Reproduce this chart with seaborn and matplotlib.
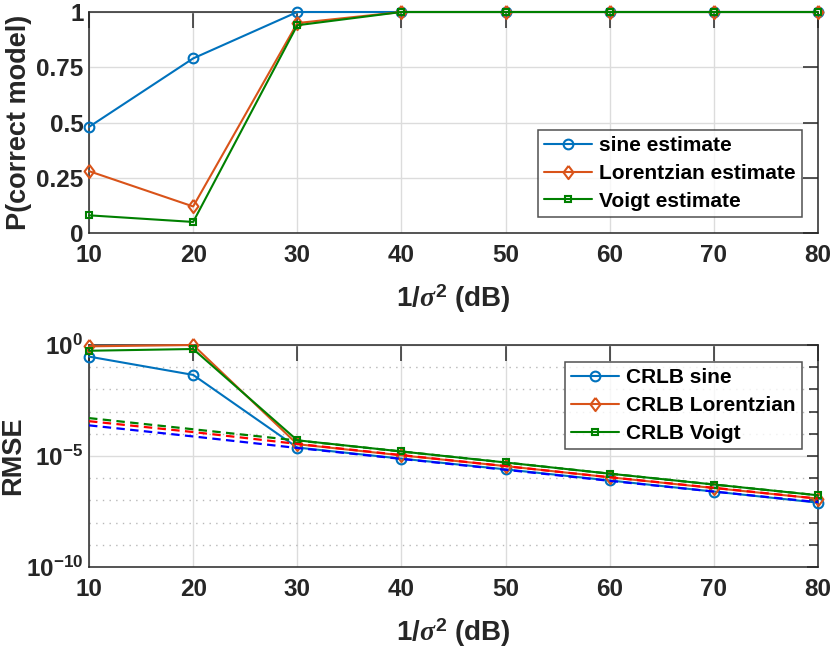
import numpy as np
import pandas as pd
import matplotlib
matplotlib.use("Agg")
import matplotlib.pyplot as plt
import seaborn as sns

# ---------------- data ----------------
snr_db = [10, 20, 30, 40, 50, 60, 70, 80]

p_sine = [0.48, 0.79, 1.0, 1.0, 1.0, 1.0, 1.0, 1.0]
p_lorentz = [0.28, 0.12, 0.95, 1.0, 1.0, 1.0, 1.0, 1.0]
p_voigt = [0.08, 0.05, 0.94, 1.0, 1.0, 1.0, 1.0, 1.0]

rmse_sine = [0.30, 0.045, 2.4e-5, 7.6e-6, 2.5e-6, 7.9e-7, 2.5e-7, 7.9e-8]
rmse_lorentz = [0.87, 1.0, 3.4e-5, 1.07e-5, 3.5e-6, 1.1e-6, 3.6e-7, 1.2e-7]
rmse_voigt = [0.55, 0.66, 5.1e-5, 1.6e-5, 5.1e-6, 1.6e-6, 5.2e-7, 1.7e-7]

crlb_sine = [2.4e-4, 7.6e-5, 2.3e-5, 7.4e-6, 2.4e-6, 7.6e-7, 2.5e-7, 8.3e-8]
crlb_lorentz = [3.7e-4, 1.2e-4, 3.5e-5, 1.1e-5, 3.5e-6, 1.1e-6, 3.7e-7, 1.2e-7]
crlb_voigt = [5.1e-4, 1.6e-4, 5.0e-5, 1.6e-5, 5.1e-6, 1.6e-6, 5.2e-7, 1.7e-7]

top_labels = ["sine estimate", "Lorentzian estimate", "Voigt estimate"]
bot_labels = ["CRLB sine", "CRLB Lorentzian", "CRLB Voigt"]
x_ticks = [10, 20, 30, 40, 50, 60, 70, 80]
top_yticks = [0, 0.25, 0.5, 0.75, 1]
top_yticklabels = ["0", "0.25", "0.5", "0.75", "1"]
bot_yticks = [1e-10, 1e-5, 1e0]
bot_yticklabels = [r"$\mathbf{10^{-10}}$", r"$\mathbf{10^{-5}}$", r"$\mathbf{10^{0}}$"]

# ---------------- style ----------------
sns.set_theme(style="white")
plt.rcParams["font.family"] = ["Liberation Sans", "DejaVu Sans"]
plt.rcParams["font.weight"] = "bold"
plt.rcParams["axes.labelweight"] = "bold"
plt.rcParams["mathtext.fontset"] = "custom"
plt.rcParams["mathtext.rm"] = "Liberation Sans:bold"
plt.rcParams["mathtext.bf"] = "Liberation Sans:bold"
plt.rcParams["mathtext.it"] = "Liberation Serif:italic"

C_SINE = "#0072BD"
C_LOR = "#D95319"
C_VOI = "#008000"
AX_C = "#262626"

TICK_FS = 17.5
LABEL_FS = 20
YLABEL_FS = 19.5
LEG_FS = 15

DIAMOND = [(0, 1), (0.75, 0), (0, -1), (-0.75, 0), (0, 1)]

fig = plt.figure(figsize=(8.32, 6.49), dpi=100)
ax1 = fig.add_axes([89 / 832, 1 - 233 / 649, 729 / 832, 221 / 649])
ax2 = fig.add_axes([89 / 832, 1 - 567 / 649, 729 / 832, 222 / 649])

df = pd.DataFrame({
    "snr": snr_db,
    "p_sine": p_sine, "p_lor": p_lorentz, "p_voi": p_voigt,
    "r_sine": rmse_sine, "r_lor": rmse_lorentz, "r_voi": rmse_voigt,
    "c_sine": crlb_sine, "c_lor": crlb_lorentz, "c_voi": crlb_voigt,
})

series_style = [
    (C_SINE, "o", 7, 1.5),
    (C_LOR, DIAMOND, 9.5, 1.5),
    (C_VOI, "s", 5, 1.5),
]

def style_axes(ax):
    for s in ax.spines.values():
        s.set_color(AX_C)
        s.set_linewidth(1.1)
        s.set_visible(True)
    ax.set_xlim(10, 80)
    ax.set_xticks(x_ticks)
    ax.tick_params(axis="both", which="both", direction="in", colors=AX_C,
                   top=True, right=True, labelsize=TICK_FS, width=1.1)
    ax.tick_params(axis="x", which="major", length=11.5, pad=8)
    ax.set_axisbelow(True)
    for lab in ax.get_xticklabels() + ax.get_yticklabels():
        lab.set_fontweight("bold")

def style_legend(leg):
    leg.get_frame().set_edgecolor(AX_C)
    leg.get_frame().set_linewidth(1.1)
    for t in leg.get_texts():
        t.set_fontweight("bold")
        t.set_color("black")

LEG_KW = dict(fontsize=LEG_FS, frameon=True, fancybox=False, handlelength=2.3,
              handletextpad=0.35, labelspacing=0.42, borderpad=0.3, borderaxespad=0)

def set_ylabel_at(ax, text, xpix):
    ax.set_ylabel(text, fontsize=YLABEL_FS, fontweight="bold", color=AX_C)
    ax.yaxis.label.set_verticalalignment("center")
    ax.yaxis.set_label_coords((xpix - 89) / 729, 0.5)

# ---- top panel ----
for col, lab, (c, m, ms, mew) in zip(["p_sine", "p_lor", "p_voi"], top_labels, series_style):
    sns.lineplot(data=df, x="snr", y=col, ax=ax1, color=c, lw=1.5,
                 marker=m, markersize=ms, markerfacecolor="none",
                 markeredgecolor=c, markeredgewidth=mew, label=lab,
                 clip_on=False, zorder=3)
style_axes(ax1)
ax1.set_ylim(0, 1)
ax1.set_yticks(top_yticks)
ax1.set_yticklabels(top_yticklabels, fontweight="bold")
ax1.tick_params(axis="y", which="major", length=11, pad=4)
ax1.grid(True, color="#dcdcdc", lw=1.0)
ax1.set_xlabel(r"1/$\sigma^{\mathbf{2}}$ (dB)", fontsize=LABEL_FS, fontweight="bold", color=AX_C, labelpad=11)
set_ylabel_at(ax1, "P(correct model)", 19)
leg1 = ax1.legend(loc="upper right", bbox_to_anchor=(0.978, 0.466), **LEG_KW)
style_legend(leg1)

# ---- bottom panel ----
ax2.set_yscale("log")
for col, lab, (c, m, ms, mew) in zip(["r_sine", "r_lor", "r_voi"], bot_labels, series_style):
    sns.lineplot(data=df, x="snr", y=col, ax=ax2, color=c, lw=1.5,
                 marker=m, markersize=ms, markerfacecolor="none",
                 markeredgecolor=c, markeredgewidth=mew, label=lab,
                 clip_on=False, zorder=3)
for col, c in zip(["c_sine", "c_lor", "c_voi"], ["#0000FF", "#FF0000", C_VOI]):
    sns.lineplot(data=df, x="snr", y=col, ax=ax2, color=c, lw=1.6,
                 dashes=False, linestyle=(0, (3.8, 2.4)), zorder=4, legend=False)
style_axes(ax2)
ax2.set_ylim(1e-10, 1e0)
ax2.set_yticks(bot_yticks)
ax2.set_yticklabels(bot_yticklabels)
ax2.set_yticks([10.0 ** k for k in range(-9, 0) if k != -5], minor=True)
ax2.yaxis.set_minor_formatter(matplotlib.ticker.NullFormatter())
ax2.tick_params(axis="y", which="major", length=8, pad=4)
ax2.tick_params(axis="y", which="minor", length=6.5, width=1.1)
ax2.grid(True, which="major", color="#dcdcdc", lw=1.0)
ax2.grid(True, which="minor", axis="y", color="#b8b8b8", lw=1.0, linestyle=(0, (1, 3.8)))
ax2.set_xlabel(r"1/$\sigma^{\mathbf{2}}$ (dB)", fontsize=LABEL_FS, fontweight="bold", color=AX_C, labelpad=11)
set_ylabel_at(ax2, "RMSE", 13)
leg2 = ax2.legend(loc="upper right", bbox_to_anchor=(0.978, 0.923), **LEG_KW)
style_legend(leg2)

fig.savefig("out.png", dpi=100)
